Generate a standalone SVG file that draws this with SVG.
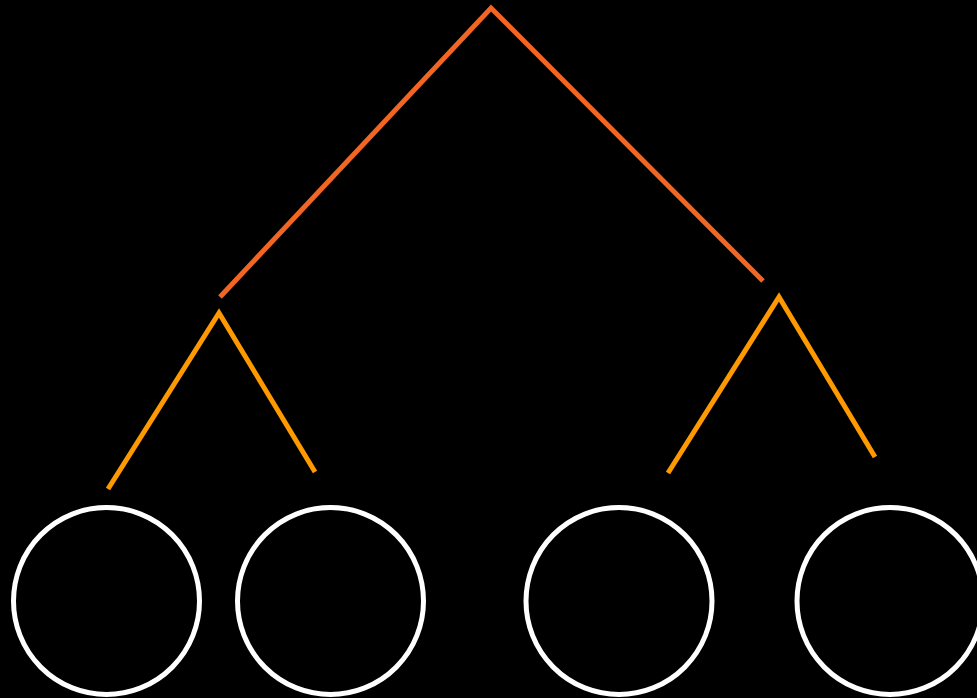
<svg xmlns="http://www.w3.org/2000/svg" width="977" height="698" viewBox="0 0 977 698">
<style>
.top{fill:none;stroke:#F26522;stroke-width:5}
.sub{fill:none;stroke:#FF9900;stroke-width:5}
.node{fill:none;stroke:#FFFFFF;stroke-width:5}
</style>
<rect width="977" height="698" fill="#000"/>
<g id="connectors">
<polyline class="top" points="220,297 491,8 763,281"/>
<polyline class="sub" points="108,489 219,313 315,472"/>
<polyline class="sub" points="668,473 779,297 875,457"/>
</g>
<g id="node1"><ellipse class="node" cx="106.5" cy="601" rx="93" ry="93.5"/></g>
<g id="node2"><ellipse class="node" cx="330.5" cy="601" rx="93" ry="93.5"/></g>
<g id="node3"><ellipse class="node" cx="619" cy="601" rx="93" ry="93.5"/></g>
<g id="node4"><ellipse class="node" cx="890" cy="601" rx="93" ry="93.5"/></g>
</svg>
